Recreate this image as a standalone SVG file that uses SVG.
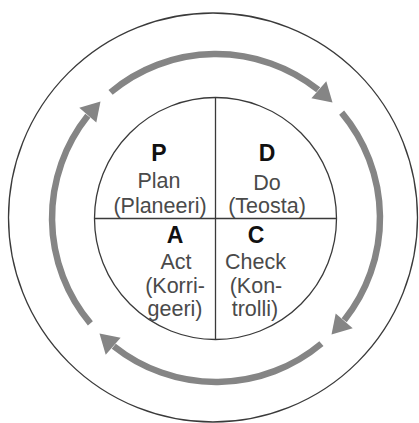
<svg xmlns="http://www.w3.org/2000/svg" xmlns:xlink="http://www.w3.org/1999/xlink" width="419" height="423" viewBox="0 0 419 423">
  <style>
    .ring { fill: none; stroke: #3a3a3a; stroke-width: 1.3; }
    .div { stroke: #3a3a3a; stroke-width: 1.3; }
    .arc { fill: none; stroke: #858585; stroke-width: 6.5; }
    .head { fill: #858585; }
    .letter { font-family: "Liberation Sans", Arial, sans-serif; font-weight: bold; font-size: 23px; fill: #111; text-anchor: middle; }
    .lbl { font-family: "Liberation Sans", Arial, sans-serif; font-size: 21.5px; fill: #4a4a4a; text-anchor: middle; }
  </style>
  <defs>
    <g id="arrow">
      <path class="arc" d="M110.58 92.37 A164 164 0 0 1 318.2 89.8"/>
      <polygon class="head" points="332.5,102.5 326.3,81.3 311.4,98.3"/>
    </g>
  </defs>
  <rect width="419" height="423" fill="#ffffff"/>
  <g id="frame">
    <circle class="ring" cx="213" cy="217.5" r="204.5"/>
    <circle class="ring" cx="215.5" cy="218.5" r="121"/>
    <line class="div" x1="215.5" y1="97.5" x2="215.5" y2="339.5"/>
    <line class="div" x1="94.5" y1="218.5" x2="336.5" y2="218.5"/>
  </g>
  <g id="connectors">
    <use xlink:href="#arrow"/>
    <use xlink:href="#arrow" transform="rotate(90 216 218)"/>
    <use xlink:href="#arrow" transform="rotate(180 216 218)"/>
    <use xlink:href="#arrow" transform="rotate(270 216 218)"/>
  </g>
  <g id="plan">
    <text class="letter" x="159" y="161">P</text>
    <text class="lbl" x="159" y="188">Plan</text>
    <text class="lbl" x="160" y="213">(Planeeri)</text>
  </g>
  <g id="do">
    <text class="letter" x="267" y="161">D</text>
    <text class="lbl" x="267" y="190">Do</text>
    <text class="lbl" x="267" y="213">(Teosta)</text>
  </g>
  <g id="act">
    <text class="letter" x="175" y="243">A</text>
    <text class="lbl" x="176" y="269">Act</text>
    <text class="lbl" x="175" y="293">(Korri-</text>
    <text class="lbl" x="175" y="316">geeri)</text>
  </g>
  <g id="check">
    <text class="letter" x="256" y="243">C</text>
    <text class="lbl" x="255.5" y="269">Check</text>
    <text class="lbl" x="256" y="293">(Kon-</text>
    <text class="lbl" x="255" y="316">trolli)</text>
  </g>
</svg>
